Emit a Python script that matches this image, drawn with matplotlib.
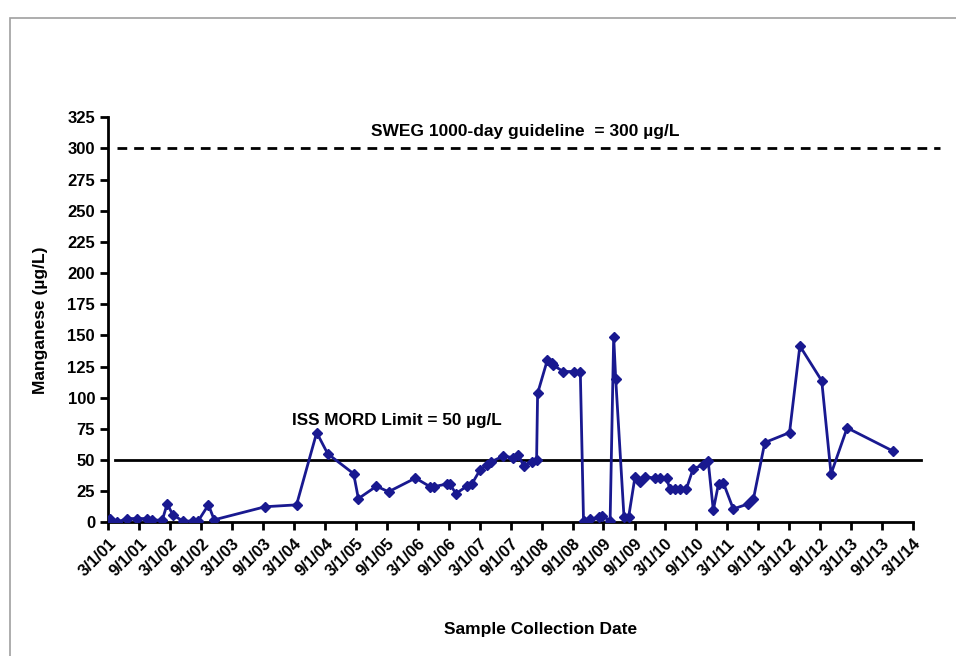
import matplotlib
matplotlib.use("Agg")
import matplotlib.pyplot as plt
import matplotlib.dates as mdates
import matplotlib.ticker as mticker
from matplotlib.patches import Rectangle
import pandas as pd

# manganese in ISS potable water samples
sample_dates = [
    "2001-03-11", "2001-04-19", "2001-06-19", "2001-08-16", "2001-10-13",
    "2001-11-13", "2002-01-13", "2002-02-12", "2002-03-16", "2002-05-16",
    "2002-07-16", "2002-08-13", "2002-10-13", "2002-11-16", "2003-09-13",
    "2004-03-16", "2004-07-13", "2004-09-16", "2005-02-16", "2005-03-16",
    "2005-07-01", "2005-09-10", "2006-02-16", "2006-05-13", "2006-06-04",
    "2006-08-19", "2006-09-07", "2006-10-13", "2006-12-16", "2007-01-16",
    "2007-03-04", "2007-04-13", "2007-05-10", "2007-07-16", "2007-09-16",
    "2007-10-16", "2007-11-16", "2008-01-04", "2008-02-01", "2008-02-07",
    "2008-04-04", "2008-05-01", "2008-05-10", "2008-07-07", "2008-09-07",
    "2008-10-16", "2008-11-04", "2008-12-13", "2009-02-01", "2009-02-22",
    "2009-04-10", "2009-05-01", "2009-05-13", "2009-07-01", "2009-07-28",
    "2009-09-04", "2009-10-01", "2009-11-01", "2009-12-28", "2010-01-28",
    "2010-03-10", "2010-03-28", "2010-04-28", "2010-05-25", "2010-07-04",
    "2010-08-13", "2010-10-10", "2010-11-10", "2010-12-10", "2011-01-10",
    "2011-02-07", "2011-04-07", "2011-07-04", "2011-08-04", "2011-10-10",
    "2012-03-04", "2012-05-04", "2012-09-10", "2012-11-04", "2013-02-07",
    "2013-11-07",
]
manganese = [
    3, 0, 3, 3, 3,
    2, 1.5, 15, 6, 1,
    1, 1, 14, 2, 12.5,
    14, 72, 55, 39, 19,
    29, 24.5, 35.5, 28.6, 28.6,
    30.7, 30.7, 23, 29, 31,
    42, 46, 48.6, 53, 52,
    54, 45.5, 48.6, 50, 103.5,
    130, 127.6, 126, 121, 121,
    121, 1.4, 2.5, 4, 5,
    1.4, 149, 115, 4, 4,
    36.6, 32.6, 36.6, 35.5, 35.5,
    35.5, 26.8, 26.8, 26.8, 26.8,
    43, 46, 49, 9.8, 31,
    31.8, 10.7, 14.8, 18.8, 64,
    72, 141.5, 113.6, 38.8, 75.8,
    57,
]

sweg_limit = 300
mord_limit = 50
y_ticks = list(range(0, 326, 25))
axis_start = "2001-03-01"
axis_end = "2014-03-01"

plt.rcParams['font.family'] = ['Liberation Sans', 'DejaVu Sans']
plt.rcParams['font.weight'] = 'bold'

dates = pd.to_datetime(sample_dates)

fig = plt.figure(figsize=(9.56, 6.56), dpi=100)
ax = fig.add_axes([0.1133, 0.2038, 0.8414, 0.6174])

# chart area frame
fig.patches.append(Rectangle((10 / 956, -0.1), 1.2, 0.1 + (656 - 18) / 656,
                             transform=fig.transFigure, fill=False,
                             edgecolor='#a0a0a0', linewidth=1.2))

ax.plot(dates, manganese, color='#191990', linewidth=2, marker='D',
        markersize=5.5, zorder=3)

ax.axhline(sweg_limit, xmin=0.011, xmax=1.034, color='black', linewidth=2,
           linestyle=(0, (3.5, 2.5)), clip_on=False)
ax.axhline(mord_limit, xmin=0.008, xmax=1.010, color='black', linewidth=2,
           clip_on=False)

ax.text(pd.Timestamp("2007-11-25"), 314, "SWEG 1000-day guideline  = 300 \u00b5g/L",
        ha='center', va='center', fontsize=12.5, fontweight='bold')
ax.text(pd.Timestamp("2005-11-01"), 82, "ISS MORD Limit = 50 \u00b5g/L",
        ha='center', va='center', fontsize=12.3, fontweight='bold')

ax.set_xlim(pd.Timestamp(axis_start), pd.Timestamp(axis_end))
ax.set_ylim(0, 325)
ax.set_yticks(y_ticks)

ax.xaxis.set_major_locator(mdates.MonthLocator(bymonth=[3, 9], bymonthday=1))
ax.xaxis.set_major_formatter(mticker.FuncFormatter(
    lambda v, pos: "{}/{}/{}".format(mdates.num2date(v).month,
                                     mdates.num2date(v).day,
                                     mdates.num2date(v).strftime('%y'))))
for lbl in ax.get_xticklabels():
    lbl.set_rotation(45)
    lbl.set_ha('right')
    lbl.set_rotation_mode('anchor')

ax.tick_params(axis='both', labelsize=12, width=2, length=6, direction='out')
ax.tick_params(axis='x', pad=4)
for side in ('top', 'right'):
    ax.spines[side].set_visible(False)
for side in ('left', 'bottom'):
    ax.spines[side].set_linewidth(2)

ax.set_ylabel("Manganese (\u00b5g/L)", fontsize=12.5, fontweight='bold', labelpad=14)
fig.text(0.565, 0.04, "Sample Collection Date", ha='center', va='center',
         fontsize=12.5, fontweight='bold')

fig.savefig("out.png", dpi=100)
